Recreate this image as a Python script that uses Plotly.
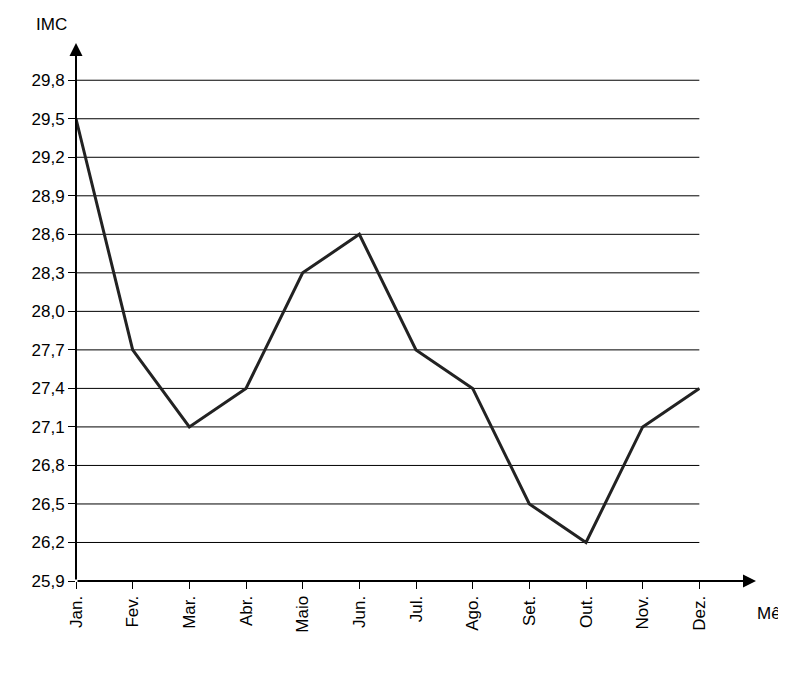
import plotly.graph_objects as go

meses = ["Jan.", "Fev.", "Mar.", "Abr.", "Maio", "Jun.", "Jul.", "Ago.", "Set.", "Out.", "Nov.", "Dez."]
imc = [29.5, 27.7, 27.1, 27.4, 28.3, 28.6, 27.7, 27.4, 26.5, 26.2, 27.1, 27.4]
y_ticks = [25.9, 26.2, 26.5, 26.8, 27.1, 27.4, 27.7, 28.0, 28.3, 28.6, 28.9, 29.2, 29.5, 29.8]
y_labels = [f"{v:.1f}".replace(".", ",") for v in y_ticks]

xs = list(range(len(meses)))
fnt = dict(family="Liberation Sans, Arial", size=17, color="black")

fig = go.Figure()
fig.add_trace(go.Scatter(x=xs, y=imc, mode="lines",
                         line=dict(color="#222222", width=3), showlegend=False))

# horizontal grid lines, stopping at Dez.
for v in y_ticks[1:]:
    fig.add_shape(type="line", x0=0, x1=xs[-1], y0=v, y1=v,
                  line=dict(color="black", width=1), layer="below")

# axes with arrowheads
fig.add_annotation(x=0, y=30.09, ax=0, ay=25.9, xref="x", yref="y", axref="x", ayref="y",
                   showarrow=True, arrowhead=2, arrowsize=1.3, arrowwidth=2,
                   arrowcolor="black", text="")
fig.add_annotation(x=12, y=25.9, ax=0, ay=25.9, xref="x", yref="y", axref="x", ayref="y",
                   showarrow=True, arrowhead=2, arrowsize=1.3, arrowwidth=2,
                   arrowcolor="black", text="")
fig.add_annotation(x=-0.01, y=1.035, xref="paper", yref="paper", text="IMC", showarrow=False,
                   font=fnt, xanchor="right", yanchor="middle")
fig.add_annotation(x=0.998, y=-0.06, xref="paper", yref="paper", text="Mês", showarrow=False,
                   font=fnt, xanchor="left", yanchor="middle")

# right border line
fig.add_shape(type="line", xref="paper", yref="paper", x0=1.05, x1=1.05, y0=-0.162, y1=1.07,
              line=dict(color="black", width=1.5))

fig.update_xaxes(range=[0, 12], tickvals=xs, ticktext=meses, tickangle=-90,
                 ticks="outside", ticklen=7, tickcolor="black", showgrid=False,
                 zeroline=False, showline=False, tickfont=fnt, automargin=False)
fig.update_yaxes(range=[25.9, 30.09], tickvals=y_ticks, ticktext=y_labels,
                 ticks="outside", ticklen=7, tickcolor="black", showgrid=False,
                 zeroline=False, showline=False, tickfont=fnt, automargin=False)

fig.update_layout(width=786, height=675, plot_bgcolor="white", paper_bgcolor="white",
                  margin=dict(l=68, r=38, t=35, b=102))

fig.write_html("out.html")
